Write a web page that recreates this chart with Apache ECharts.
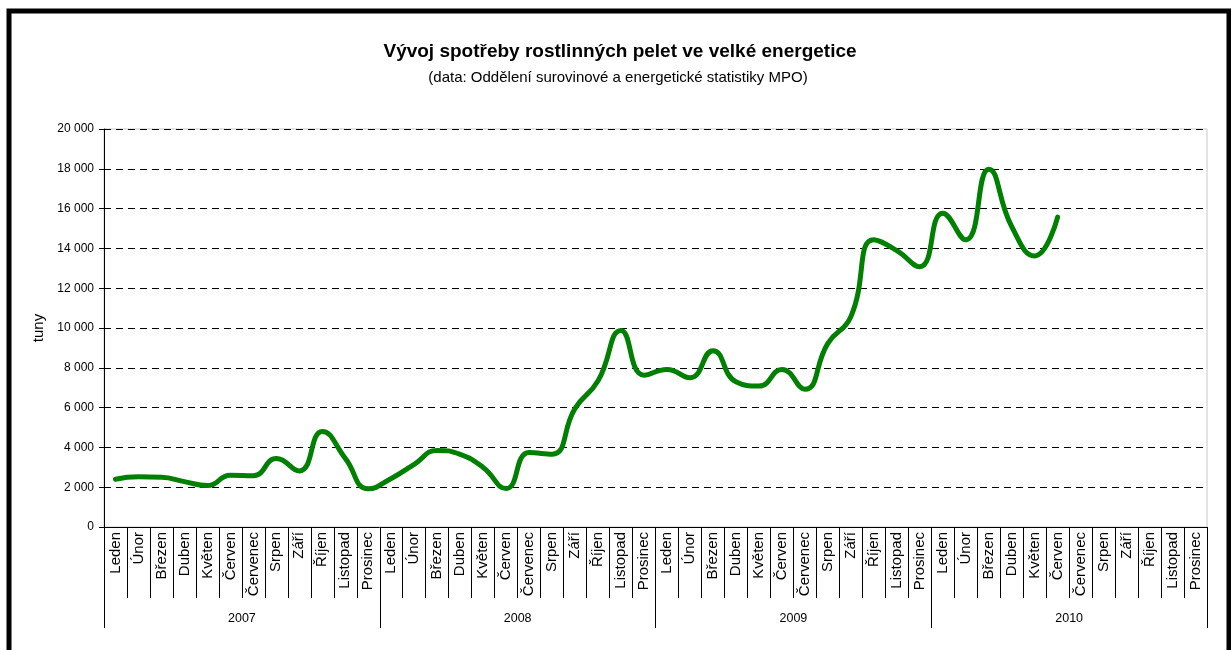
<!DOCTYPE html>
<html>
<head>
<meta charset="utf-8">
<script src="https://cdn.jsdelivr.net/npm/echarts@6/dist/echarts.min.js"></script>
<style>
html,body{margin:0;padding:0;background:#fff;}
#chart{width:1231px;height:650px;}
</style>
</head>
<body>
<div id="chart"></div>
<script>
var months = ['Leden','Únor','Březen','Duben','Květen','Červen','Červenec','Srpen','Září','Říjen','Listopad','Prosinec'];
var years = ['2007','2008','2009','2010'];
var values2007 = [2400, 2520, 2500, 2280, 2080, 2600, 2580, 3440, 2820, 4800, 3450, 1920];
var values2008 = [2440, 3150, 3850, 3650, 2990, 1930, 3740, 3660, 5960, 7350, 9880, 7630];
var values2009 = [7920, 7500, 8860, 7300, 7080, 7920, 6920, 9230, 10570, 14430, 13890, 13080];
var values2010 = [15770, 14430, 17980, 15100, 13620, 15570, null, null, null, null, null, null];
var yTicks = {min: 0, max: 20000, interval: 2000};
var titleText = 'Vývoj spotřeby rostlinných pelet ve velké energetice';
var subtitleText = '(data: Oddělení surovinové a energetické statistiky MPO)';
var yName = 'tuny';

var categories = [];
years.forEach(function(y){ months.forEach(function(m){ categories.push(m); }); });
var seriesData = values2007.concat(values2008, values2009, values2010);

function fmt(v){ return String(v).replace(/\B(?=(\d{3})+(?!\d))/g, ' '); }

var chart = echarts.init(document.getElementById('chart'), null, {renderer: 'canvas'});
var font = '"Liberation Sans", Arial, sans-serif';
chart.setOption({
  animation: false,
  backgroundColor: '#ffffff',
  textStyle: {fontFamily: font},
  title: [{
    text: titleText,
    left: 615, top: 37, textAlign: 'center',
    textStyle: {fontFamily: font, fontSize: 19, fontWeight: 'bold', color: '#000'}
  }, {
    text: subtitleText,
    left: 613, top: 65, textAlign: 'center',
    textStyle: {fontFamily: font, fontSize: 15, fontWeight: 'normal', color: '#000'}
  }],
  graphic: [{
    type: 'rect',
    shape: {x: 9, y: 11, width: 1220, height: 700},
    style: {fill: 'none', stroke: '#000', lineWidth: 5},
    z: 100
  }],
  grid: {
    left: 104, top: 129, width: 1103, height: 398,
    show: true, borderColor: '#c8c8c8', borderWidth: 1, backgroundColor: 'transparent'
  },
  xAxis: [{
    type: 'category',
    data: categories,
    boundaryGap: true,
    position: 'bottom',
    axisLine: {show: true, lineStyle: {color: '#000', width: 1}},
    axisTick: {show: true, interval: 0, length: 71, lineStyle: {color: '#000', width: 1}},
    axisLabel: {interval: 0, rotate: 90, margin: 5, fontSize: 15, color: '#000', fontFamily: font},
    splitLine: {show: false}
  }, {
    type: 'category',
    data: years,
    boundaryGap: true,
    position: 'bottom',
    axisLine: {show: false},
    axisTick: {show: true, interval: 0, length: 101, lineStyle: {color: '#000', width: 1}},
    axisLabel: {interval: 0, margin: 85, fontSize: 12.5, color: '#000', fontFamily: font},
    splitLine: {show: false}
  }],
  yAxis: {
    type: 'value',
    min: yTicks.min, max: yTicks.max, interval: yTicks.interval,
    name: yName,
    nameLocation: 'middle',
    nameGap: 55,
    nameTextStyle: {fontSize: 15, color: '#000', fontFamily: font},
    axisLine: {show: true, lineStyle: {color: '#000', width: 1}},
    axisTick: {show: true, length: 5, lineStyle: {color: '#000'}},
    axisLabel: {formatter: fmt, fontSize: 12, color: '#000', margin: 10, fontFamily: font},
    splitLine: {show: true, lineStyle: {color: '#000', width: 1, type: [7, 5]}}
  },
  series: [{
    type: 'line',
    xAxisIndex: 0,
    data: seriesData,
    smooth: 0.5,
    showSymbol: false,
    symbol: 'none',
    connectNulls: false,
    lineStyle: {color: '#008000', width: 5, cap: 'round', join: 'round'},
    itemStyle: {color: '#008000'}
  }]
});
</script>
</body>
</html>
